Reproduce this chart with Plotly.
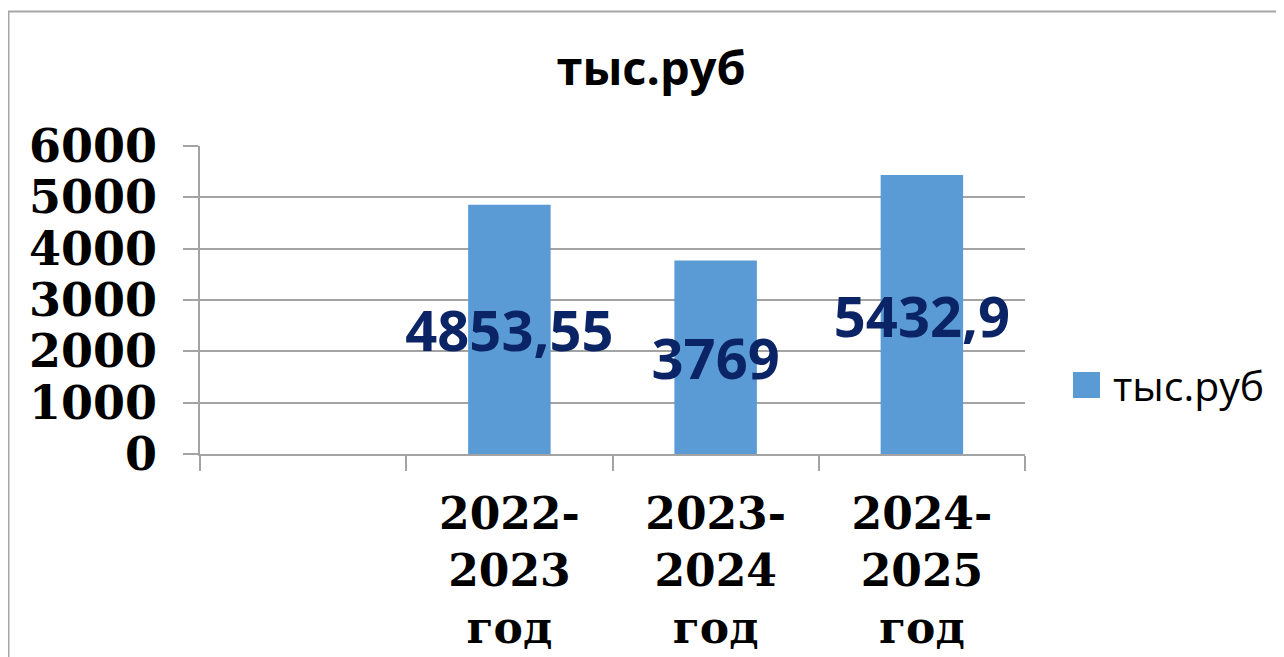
import plotly.graph_objects as go

# ---- data ----
categories = [" ", "2022-<br>2023<br>год", "2023-<br>2024<br>год", "2024-<br>2025<br>год"]
values = [None, 4853.55, 3769, 5432.9]
series_name = "тыс.руб"
y_ticks = [0, 1000, 2000, 3000, 4000, 5000, 6000]

labels = ["" if v is None else ("%g" % v).replace(".", ",") for v in values]

BAR = "#5B9BD5"
GRID = "#A3A3A3"
LBL = "#0B2466"

OFF = 8  # page body margin
W, H = 1284 - OFF, 657 - OFF
L, R, T, B = 200 - OFF, 1025 - OFF, 146 - OFF, 454 - OFF  # plot area pixels


def px(x):
    return (x - OFF - L) / (R - L)


def py(y):
    return (B - (y - OFF)) / (B - T)


fig = go.Figure()
fig.add_trace(go.Bar(
    x=categories, y=values, name=series_name,
    marker=dict(color=BAR, line=dict(width=0)),
    text=labels, textposition="inside", insidetextanchor="middle",
    textangle=0, constraintext="none",
    textfont=dict(family="Open Sans", size=56, color=LBL, weight="bold"),
    showlegend=False,
))

fig.update_layout(
    width=W, height=H, autosize=False,
    margin=dict(l=L, r=W - R, t=T, b=H - B, autoexpand=False),
    paper_bgcolor="white", plot_bgcolor="white",
    bargap=0.6,
    title=dict(text=series_name, x=(651 - OFF) / W, xanchor="center", xref="container",
               y=1 - (69 - OFF) / H, yanchor="middle", yref="container",
               font=dict(family="Open Sans", size=47, color="black", weight="bold")),
    xaxis=dict(
        type="category", categoryorder="array", categoryarray=categories,
        tickson="boundaries", ticks="outside", ticklen=15, tickcolor=GRID, tickwidth=1.5,
        showline=True, linecolor=GRID, linewidth=1.5, showgrid=False,
        tickfont=dict(family="DejaVu Serif", size=44, color="black", weight="bold"),
        range=[-0.5, 3.5], ticklabelstandoff=20, automargin=False,
    ),
    yaxis=dict(
        range=[0, 6000], tickvals=y_ticks, ticks="outside", ticklen=15,
        tickcolor=GRID, tickwidth=1.5, showgrid=True, gridcolor=GRID, gridwidth=1.5,
        showline=True, linecolor=GRID, linewidth=1.5, zeroline=False,
        tickfont=dict(family="DejaVu Serif", size=46, color="black", weight="bold"),
        ticklabelstandoff=17, automargin=False,
    ),
    shapes=[
        dict(type="rect", xref="paper", yref="paper",
             x0=px(8.5), x1=px(1400), y0=py(700), y1=py(11.5),
             line=dict(color="#A6A6A6", width=2), fillcolor="rgba(0,0,0,0)", layer="below"),
        dict(type="rect", xref="paper", yref="paper",
             x0=px(1073), x1=px(1100), y0=py(398), y1=py(372),
             line=dict(width=0), fillcolor=BAR),
    ],
    annotations=[
        dict(text=series_name, xref="paper", yref="paper", x=px(1111), y=py(385),
             xanchor="left", yanchor="middle", showarrow=False,
             font=dict(family="Open Sans", size=41, color="black")),
    ],
)

fig.write_html("out.html")
